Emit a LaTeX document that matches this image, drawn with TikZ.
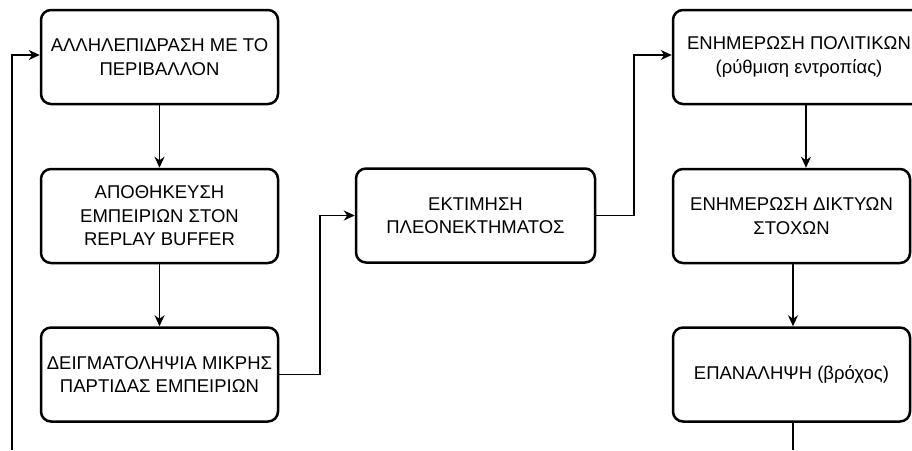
\documentclass[tikz,border=0pt]{standalone}
\usepackage{fontspec}
\setmainfont{Liberation Sans}
\usetikzlibrary{arrows.meta}
\begin{document}
\begin{tikzpicture}[x=1pt,y=-1pt,
  stepbox/.style={draw=black, line width=2.5pt, rounded corners=10pt, fill=white,
    minimum width=237pt, minimum height=94pt, align=center, inner sep=0pt,
    font=\fontsize{18.5}{23.5}\selectfont},
  link/.style={draw=black, line width=1.2pt, -{Stealth[length=11pt,width=10pt,inset=3.5pt]}},
  plain/.style={draw=black, line width=1.2pt}]
\useasboundingbox (0,0) rectangle (912,450);
\clip (0,0) rectangle (912,450);

% left column
\node[stepbox] (b1) at (159.5,57) {ΑΛΛΗΛΕΠΙΔΡΑΣΗ ΜΕ ΤΟ\\ΠΕΡΙΒΑΛΛΟΝ};
\node[stepbox] (b2) at (159.5,216) {ΑΠΟΘΗΚΕΥΣΗ\\ΕΜΠΕΙΡΙΩΝ ΣΤΟΝ\\REPLAY BUFFER};
\node[stepbox] (b3) at (159.5,374.5) {ΔΕΙΓΜΑΤΟΛΗΨΙΑ ΜΙΚΡΗΣ\\ΠΑΡΤΙΔΑΣ ΕΜΠΕΙΡΙΩΝ};

% middle
\node[stepbox, minimum width=239pt] (b4) at (475.5,215.5) {ΕΚΤΙΜΗΣΗ\\ΠΛΕΟΝΕΚΤΗΜΑΤΟΣ};

% right column
\node[stepbox, minimum width=252pt] (b5) at (799,57) {ΕΝΗΜΕΡΩΣΗ ΠΟΛΙΤΙΚΩΝ\\(ρύθμιση εντροπίας)};
\node[stepbox] (b6) at (791.5,216) {ΕΝΗΜΕΡΩΣΗ ΔΙΚΤΥΩΝ\\ΣΤΟΧΩΝ};
\node[stepbox] (b7) at (791.5,374.5) {ΕΠΑΝΑΛΗΨΗ (βρόχος)};

% loop ends at the lower border
\coordinate (loopin) at (12,450);
\coordinate (loopout) at (793,450);

% connectors
\draw[link] (b1.south) -- (b2.north);
\draw[link] (b2.south) -- (b3.north);
\draw[link] (b3.east) -- (320,374.5) |- (b4.west);
\draw[link] (b4.east) -- (634,215.5) |- ([yshift=2pt]b5.west);
\draw[link] ([xshift=7pt]b5.south) -- ([xshift=7pt]b5.south |- b6.north);
\draw[link] ([xshift=1.5pt]b6.south) -- ([xshift=1.5pt]b7.north);
\draw[plain] ([xshift=1.5pt]b7.south) -- ([xshift=1.5pt]b7.south |- loopout);
\draw[link] (loopin) |- ([yshift=2pt]b1.west);
\end{tikzpicture}
\end{document}
